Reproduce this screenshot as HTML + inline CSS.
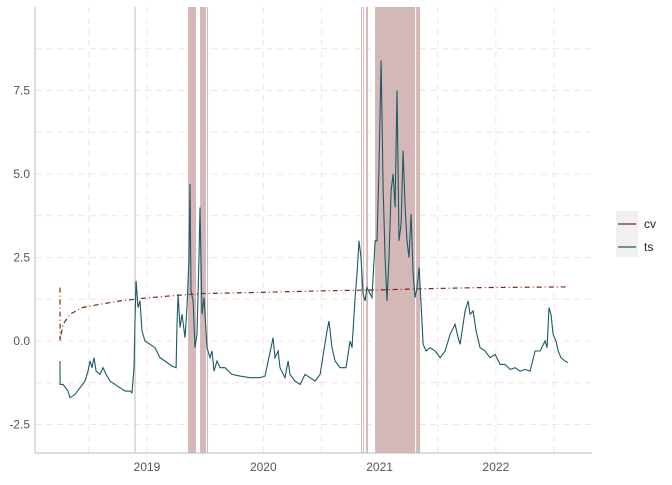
<!DOCTYPE html>
<html><head><meta charset="utf-8"><style>
body{margin:0;background:#fff;}
svg text{font-family:"Liberation Sans",sans-serif;}
</style></head><body>
<svg id="chart" width="672" height="480" xmlns="http://www.w3.org/2000/svg">
<g id="grid"></g>
<g id="bands"></g>
<g id="series"></g>
<g id="axes"></g>
<g id="legend">
<rect x="616" y="211" width="22" height="46" fill="#f0f0f0"/>
<line x1="618" y1="224" x2="636" y2="224" stroke="#7a2a10" stroke-width="1.2"/>
<text x="644" y="228" font-size="12" fill="#222">cv</text>
<line x1="618" y1="247" x2="636" y2="247" stroke="#1b5a66" stroke-width="1.2"/>
<text x="644" y="251" font-size="12" fill="#222">ts</text>
</g>
</svg>
<script>
const tsDates=[2018.252,2018.253,2018.278,2018.321,2018.338,2018.381,2018.424,2018.467,2018.493,2018.510,2018.527,2018.544,2018.562,2018.596,2018.622,2018.648,2018.682,2018.725,2018.768,2018.811,2018.854,2018.871,2018.888,2018.897,2018.906,2018.923,2018.940,2018.957,2018.983,2019.026,2019.069,2019.112,2019.155,2019.215,2019.250,2019.258,2019.267,2019.284,2019.301,2019.327,2019.344,2019.361,2019.370,2019.378,2019.396,2019.413,2019.430,2019.447,2019.456,2019.473,2019.490,2019.516,2019.542,2019.559,2019.576,2019.602,2019.628,2019.671,2019.731,2019.800,2019.886,2019.972,2020.015,2020.084,2020.101,2020.127,2020.144,2020.187,2020.213,2020.230,2020.273,2020.316,2020.359,2020.402,2020.445,2020.488,2020.548,2020.565,2020.591,2020.617,2020.660,2020.711,2020.746,2020.763,2020.789,2020.806,2020.823,2020.840,2020.858,2020.875,2020.892,2020.935,2020.961,2020.978,2020.995,2021.013,2021.030,2021.047,2021.064,2021.081,2021.099,2021.116,2021.133,2021.150,2021.167,2021.185,2021.202,2021.219,2021.236,2021.253,2021.271,2021.288,2021.305,2021.322,2021.340,2021.357,2021.374,2021.400,2021.434,2021.477,2021.520,2021.563,2021.606,2021.649,2021.675,2021.692,2021.735,2021.761,2021.778,2021.804,2021.830,2021.864,2021.907,2021.950,2021.993,2022.036,2022.079,2022.122,2022.165,2022.208,2022.251,2022.294,2022.337,2022.380,2022.423,2022.440,2022.457,2022.474,2022.492,2022.517,2022.535,2022.560,2022.595,2022.620];
const tsValues=[-0.6,-1.3,-1.3,-1.5,-1.7,-1.6,-1.4,-1.2,-0.9,-0.6,-0.8,-0.5,-0.9,-1.0,-0.8,-1.0,-1.2,-1.3,-1.4,-1.5,-1.5,-1.55,-0.8,0.6,1.8,1.0,1.2,0.3,0.0,-0.1,-0.2,-0.5,-0.6,-0.75,-0.8,0.5,1.4,0.4,0.8,0.1,1.0,2.5,4.7,1.5,1.2,-0.2,0.2,2.5,4.0,0.8,1.3,-0.2,-0.5,-0.3,-0.9,-0.6,-0.8,-0.8,-1.0,-1.05,-1.1,-1.1,-1.05,0.1,-0.5,-0.3,-0.8,-1.1,-0.6,-1.0,-1.2,-1.3,-1.0,-1.1,-1.2,-1.0,0.3,0.6,-0.2,-0.6,-0.8,-0.8,0.0,-0.2,1.3,2.0,3.0,2.5,1.4,1.2,1.6,1.3,3.0,3.0,5.2,8.4,4.6,2.5,1.2,2.5,4.5,5.0,4.0,7.5,3.0,3.5,5.7,4.0,3.0,2.5,3.8,2.0,1.3,1.6,2.2,1.1,-0.1,-0.3,-0.2,-0.3,-0.5,-0.3,0.2,0.5,0.1,-0.1,0.9,1.2,0.8,0.9,0.3,-0.2,-0.3,-0.5,-0.4,-0.7,-0.7,-0.85,-0.8,-0.9,-0.85,-0.9,-0.3,-0.3,0.0,-0.2,1.0,0.8,0.2,0.0,-0.3,-0.5,-0.6,-0.65];
const cvDates=[2018.252,2018.253,2018.262,2018.278,2018.338,2018.441,2018.596,2018.768,2018.940,2019.198,2019.456,2019.886,2020.488,2021.004,2021.434,2021.864,2022.620];
const cvValues=[1.6,0.0,0.2,0.5,0.8,1.0,1.1,1.2,1.27,1.35,1.42,1.45,1.5,1.53,1.57,1.6,1.62];
const bandStarts=[2019.353,2019.456,2019.516,2020.840,2020.858,2020.884,2020.961,2021.314];
const bandEnds=[2019.422,2019.507,2019.525,2020.849,2020.866,2020.901,2021.305,2021.348];
const vlineDates=[2018.897];
const yTicks=[-2.5,0,2.5,5,7.5];
const yTickLabels=["-2.5","0.0","2.5","5.0","7.5"];
const xTicks=[2019,2020,2021,2022];
const xTickLabels=["2019","2020","2021","2022"];

const L=35,R=592,T=7,B=453;
const X=t=>147+(t-2019)*116.3;
const Y=v=>341-v*33.4;
const NS="http://www.w3.org/2000/svg";
function mk(tag,attrs,parent){const e=document.createElementNS(NS,tag);for(const k in attrs)e.setAttribute(k,attrs[k]);parent.appendChild(e);return e;}
const grid=document.getElementById('grid'),bands=document.getElementById('bands'),series=document.getElementById('series'),axes=document.getElementById('axes');
// grid
for(let v=-2.5;v<=8.75;v+=1.25){const e=mk('line',{x1:L,x2:R,y1:Y(v),y2:Y(v),stroke:'#f8e0e0','stroke-dasharray':'6,5','stroke-width':1},grid);

}
for(let t=2018.5;t<=2022.5;t+=0.5){const e=mk('line',{x1:X(t),x2:X(t),y1:T,y2:B,stroke:'#f8e0e0','stroke-dasharray':'6,5','stroke-width':1},grid);

}
// bands
bandStarts.forEach((s,i)=>{const e=mk('rect',{x:X(s),y:T,width:Math.max(1,X(bandEnds[i])-X(s)),height:B-T,fill:'#d4b8b8'},bands);

});
vlineDates.forEach(d=>{const e=mk('line',{x1:X(d),x2:X(d),y1:T,y2:B,stroke:'#c4bcbc','stroke-width':1},bands);

});
// series
const cvPath=mk('path',{d:cvDates.map((d,i)=>(i?'L':'M')+X(d).toFixed(1)+','+Y(cvValues[i]).toFixed(1)).join(''),fill:'none',stroke:'#7a2a10','stroke-width':1.2,'stroke-dasharray':'5,3,1,3'},series);


const tsPath=mk('path',{d:tsDates.map((d,i)=>(i?'L':'M')+X(d).toFixed(1)+','+Y(tsValues[i]).toFixed(1)).join(''),fill:'none',stroke:'#1b5a66','stroke-width':1.1},series);


// axes
const ya=mk('line',{x1:L,x2:L,y1:T,y2:B,stroke:'#bbb','stroke-width':1},axes);


const xa=mk('line',{x1:L,x2:R,y1:B,y2:B,stroke:'#bbb','stroke-width':1},axes);


yTicks.forEach((v,i)=>{const e=mk('text',{x:30,y:Y(v)+4,'text-anchor':'end','font-size':12,fill:'#555'},axes);e.textContent=yTickLabels[i];

});
xTicks.forEach((t,i)=>{const e=mk('text',{x:X(t),y:471,'text-anchor':'middle','font-size':12,fill:'#555'},axes);e.textContent=xTickLabels[i];

});
</script>
</body></html>
